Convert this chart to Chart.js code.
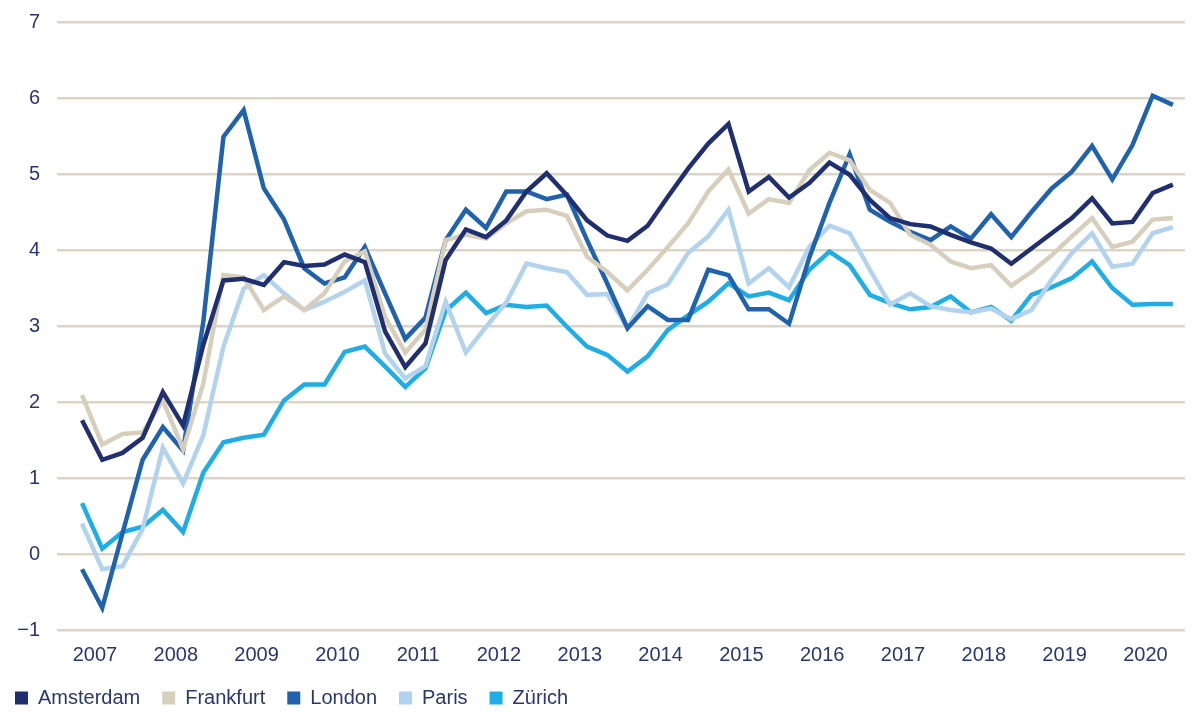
<!DOCTYPE html>
<html>
<head>
<meta charset="utf-8">
<script src="https://cdn.jsdelivr.net/npm/chart.js@4/dist/chart.umd.min.js"></script>
<style>
  body { margin: 0; background: #fff; }
  #wrap { width: 1200px; height: 720px; }
</style>
</head>
<body>
<div id="wrap"><canvas id="chart"></canvas></div>
<script>
// quarterly series, 2007 Q1 .. 2020 Q3
const firstYear = 2007;
const yearLabels = ["2007", "2008", "2009", "2010", "2011", "2012", "2013", "2014", "2015", "2016", "2017", "2018", "2019", "2020"];
const cities = ["Amsterdam", "Frankfurt", "London", "Paris", "Zürich"];

const amsterdam = [1.76, 1.24, 1.33, 1.53, 2.13, 1.69, 2.75, 3.6, 3.62, 3.54, 3.84, 3.79, 3.81, 3.94, 3.84, 2.93, 2.46, 2.77, 3.87, 4.27,
  4.17, 4.39, 4.77, 5.01, 4.72, 4.39, 4.19, 4.12, 4.32, 4.7, 5.07, 5.4, 5.66, 4.77, 4.96, 4.69, 4.88, 5.15, 4.99, 4.66,
  4.42, 4.34, 4.31, 4.2, 4.1, 4.02, 3.82, 4.02, 4.22, 4.42, 4.68, 4.35, 4.37, 4.75, 4.86];
const frankfurt = [2.09, 1.44, 1.58, 1.6, 2.02, 1.38, 2.24, 3.67, 3.64, 3.21, 3.39, 3.21, 3.43, 3.85, 3.98, 3.12, 2.65, 2.95, 4.13, 4.2,
  4.15, 4.35, 4.51, 4.53, 4.45, 3.91, 3.71, 3.47, 3.74, 4.04, 4.35, 4.77, 5.06, 4.48, 4.67, 4.62, 5.05, 5.28, 5.18, 4.79,
  4.62, 4.2, 4.07, 3.85, 3.76, 3.8, 3.53, 3.71, 3.93, 4.18, 4.42, 4.04, 4.11, 4.4, 4.42];
const london = [-0.2, -0.71, 0.27, 1.24, 1.67, 1.36, 3.05, 5.49, 5.84, 4.81, 4.4, 3.76, 3.56, 3.64, 4.04, 3.43, 2.83, 3.11, 4.13, 4.53,
  4.29, 4.77, 4.77, 4.67, 4.73, 4.13, 3.56, 2.97, 3.26, 3.08, 3.08, 3.74, 3.67, 3.22, 3.22, 3.03, 3.9, 4.62, 5.26, 4.53,
  4.37, 4.24, 4.13, 4.31, 4.15, 4.47, 4.17, 4.5, 4.81, 5.03, 5.37, 4.93, 5.38, 6.03, 5.91];
const paris = [0.4, -0.2, -0.16, 0.33, 1.4, 0.93, 1.56, 2.73, 3.49, 3.67, 3.43, 3.21, 3.32, 3.45, 3.6, 2.64, 2.31, 2.47, 3.32, 2.65,
  2.99, 3.31, 3.82, 3.76, 3.71, 3.41, 3.42, 2.97, 3.43, 3.55, 3.96, 4.18, 4.53, 3.56, 3.76, 3.51, 4.04, 4.32, 4.22, 3.74,
  3.28, 3.43, 3.26, 3.21, 3.18, 3.23, 3.09, 3.21, 3.61, 3.96, 4.22, 3.78, 3.82, 4.22, 4.3];
const zurich = [0.67, 0.07, 0.29, 0.36, 0.58, 0.29, 1.07, 1.47, 1.53, 1.57, 2.02, 2.23, 2.23, 2.66, 2.73, 2.47, 2.2, 2.44, 3.2, 3.44,
  3.17, 3.28, 3.25, 3.27, 2.99, 2.73, 2.62, 2.4, 2.6, 2.95, 3.14, 3.32, 3.56, 3.39, 3.44, 3.34, 3.74, 3.98, 3.8, 3.41,
  3.3, 3.22, 3.25, 3.39, 3.18, 3.25, 3.07, 3.41, 3.51, 3.63, 3.85, 3.5, 3.28, 3.29, 3.29];

const colors = ["#1f2f6f", "#d7cfbb", "#1f62ad", "#b2d3ee", "#1eade4"];
const textColor = "#283672";
const gridColor = "#dcd5c4";
const font = { family: "'Liberation Sans', Arial, sans-serif", size: 20 };

// each value sits at its quarter on a year axis
function toPoints(values) {
  return values.map((v, i) => ({ x: firstYear + i / 4, y: v }));
}

const series = [amsterdam, frankfurt, london, paris, zurich];

// move the legend to the bottom-left corner
const legendPlace = {
  id: "legendPlace",
  afterLayout(chart) {
    chart.legend.left = -7;
    chart.legend.top = 666;
  }
};

new Chart(document.getElementById("chart"), {
  type: "line",
  data: {
    datasets: series.map((values, k) => ({
      label: cities[k],
      data: toPoints(values),
      borderColor: colors[k],
      backgroundColor: colors[k],
      borderWidth: 4.5,
      borderJoinStyle: "miter",
      pointRadius: 0,
      tension: 0,
      fill: false
    }))
  },
  options: {
    responsive: true,
    maintainAspectRatio: false,
    animation: false,
    layout: { padding: { left: 0, right: 15, top: 22, bottom: 0 } },
    plugins: {
      tooltip: { enabled: false },
      legend: {
        position: "bottom",
        align: "start",
        labels: {
          color: textColor,
          font: font,
          boxWidth: 13,
          boxHeight: 13,
          padding: 22,
          generateLabels(chart) {
            const items = Chart.defaults.plugins.legend.labels.generateLabels(chart);
            items.forEach(it => { it.lineWidth = 0; it.fillStyle = it.strokeStyle; });
            return items;
          }
        }
      }
    },
    scales: {
      x: {
        type: "linear",
        min: 2006.69,
        max: 2020.65,
        grid: { display: false },
        border: { display: false },
        afterBuildTicks(scale) {
          scale.ticks = yearLabels.map(y => ({ value: Number(y) + 0.16 }));
        },
        afterFit(scale) { scale.height = 38; },
        ticks: {
          autoSkip: false,
          maxRotation: 0,
          padding: 5,
          color: textColor,
          font: font,
          callback: (v, i) => yearLabels[i]
        }
      },
      y: {
        min: -1,
        max: 7,
        grid: { color: gridColor, lineWidth: 2.5, drawTicks: false },
        border: { display: false },
        afterFit(scale) {
          scale.width = 57;
          scale.paddingTop = 0;
          scale.paddingBottom = 0;
        },
        ticks: {
          stepSize: 1,
          padding: 17,
          color: textColor,
          font: font,
          callback: v => (v < 0 ? "\u2212" + Math.abs(v) : String(v))
        }
      }
    }
  },
  plugins: [legendPlace]
});
</script>
</body>
</html>
